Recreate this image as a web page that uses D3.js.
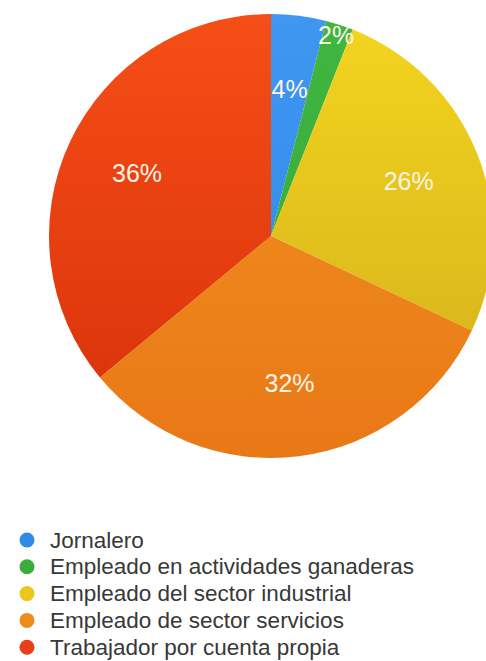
<!DOCTYPE html>
<html>
<head>
<meta charset="utf-8">
<script src="https://cdn.jsdelivr.net/npm/d3@7"></script>
<style>
  html, body { margin: 0; padding: 0; background: #ffffff; }
  svg { display: block; }
</style>
</head>
<body>
<svg id="chart" width="486" height="661"></svg>
<script>
const categories = [
  "Jornalero",
  "Empleado en actividades ganaderas",
  "Empleado del sector industrial",
  "Empleado de sector servicios",
  "Trabajador por cuenta propia"
];
const values = [4, 2, 26, 32, 36];
const colorsTop = ["#3f97f2", "#40b640", "#f4d51e", "#f29420", "#f54e16"];
const colorsBottom = ["#2f86e6", "#36a636", "#d2ad1c", "#e97817", "#d8300a"];
const legendColors = ["#2f8ae8", "#3aad3a", "#ecc51e", "#ef8a1c", "#e6401a"];

const svg = d3.select("#chart");
const cx = 271, cy = 236, R = 222;

const defs = svg.append("defs");
categories.forEach((c, i) => {
  const g = defs.append("linearGradient")
    .attr("id", "grad" + i)
    .attr("gradientUnits", "userSpaceOnUse")
    .attr("x1", 0).attr("y1", -R)
    .attr("x2", 0).attr("y2", R);
  g.append("stop").attr("offset", "0%").attr("stop-color", colorsTop[i]);
  g.append("stop").attr("offset", "100%").attr("stop-color", colorsBottom[i]);
});

const data = categories.map((c, i) => ({ name: c, value: values[i], i }));
const pie = d3.pie().value(d => d.value).sort(null);
const arcs = pie(data);

const arc = d3.arc().innerRadius(0).outerRadius(R);
const labelArc = d3.arc().innerRadius(R * 0.667).outerRadius(R * 0.667);
const outerLabelArc = d3.arc().innerRadius(R * 0.95).outerRadius(R * 0.95);

const g = svg.append("g").attr("transform", `translate(${cx},${cy})`);
g.selectAll("path.slice")
  .data(arcs)
  .join("path")
  .attr("class", "slice")
  .attr("d", arc)
  .attr("fill", d => `url(#grad${d.data.i})`);

g.selectAll("text.pct")
  .data(arcs)
  .join("text")
  .attr("class", "pct")
  .attr("transform", d => {
    const p = (d.data.value < 3 ? outerLabelArc : labelArc).centroid(d);
    return `translate(${p[0]},${p[1]})`;
  })
  .attr("text-anchor", "middle")
  .attr("dominant-baseline", "central")
  .attr("font-family", "'Liberation Sans', Arial, Helvetica, sans-serif")
  .attr("font-size", 25)
  .attr("fill", "#fbf4e4")
  .text(d => d.data.value + "%");

// Legend
const legendX = 27, legendY0 = 540, legendStep = 26.8;
const lg = svg.append("g");
const items = lg.selectAll("g.item")
  .data(data)
  .join("g")
  .attr("class", "item")
  .attr("transform", (d, i) => `translate(${legendX},${legendY0 + i * legendStep})`);
items.append("circle")
  .attr("r", 7.5)
  .attr("fill", d => legendColors[d.i]);
items.append("text")
  .attr("x", 23)
  .attr("y", 7.5)
  .attr("font-family", "'Liberation Sans', Arial, Helvetica, sans-serif")
  .attr("font-size", 22.5)
  .attr("fill", "#383838")
  .text(d => d.name);
</script>
</body>
</html>
